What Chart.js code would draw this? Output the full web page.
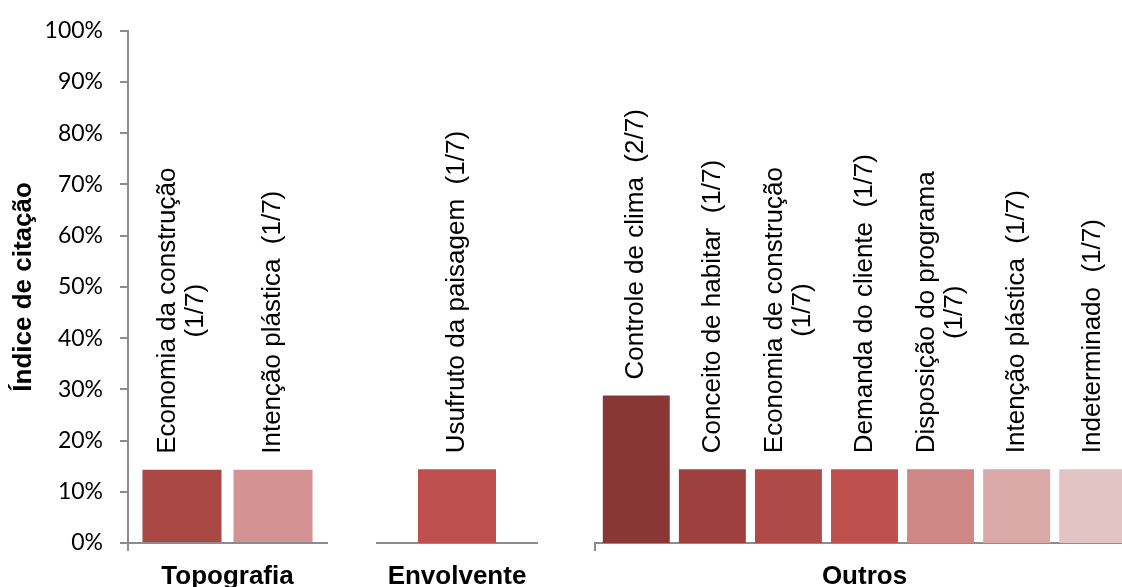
<!DOCTYPE html>
<html>
<head>
<meta charset="utf-8">
<script src="https://cdn.jsdelivr.net/npm/chart.js@4.4.0/dist/chart.umd.min.js"></script>
<style>
  html, body { margin: 0; padding: 0; background: #fff; overflow: hidden; }
  body { width: 1122px; height: 587px; position: relative; }
  canvas { position: absolute; top: 0; }
</style>
</head>
<body>
<canvas id="chartTopo" width="345" height="587" style="left:0px"></canvas>
<canvas id="chartEnv" width="200" height="587" style="left:360px"></canvas>
<canvas id="chartOutros" width="580" height="587" style="left:580px"></canvas>
<script>
// Group names (one panel each)
const groupNames = ['Topografia', 'Envolvente', 'Outros'];

// Bar labels for each panel (arrays = two lines)
const topoLabels = [['Economia da construção', '(1/7)'], 'Intenção plástica  (1/7)'];
const envLabels = ['Usufruto da paisagem  (1/7)'];
const outrosLabels = [
  'Controle de clima  (2/7)',
  'Conceito de habitar  (1/7)',
  ['Economia de construção', '(1/7)'],
  'Demanda do cliente  (1/7)',
  ['Disposição do programa', '(1/7)'],
  'Intenção plástica  (1/7)',
  'Indeterminado  (1/7)'
];

// Citation index values
const topoValues = [0.143, 0.143];
const envValues = [0.143];
const outrosValues = [0.286, 0.143, 0.143, 0.143, 0.143, 0.143, 0.143];

// y axis tick labels
const yTickLabels = ['0%', '10%', '20%', '30%', '40%', '50%', '60%', '70%', '80%', '90%', '100%'];

// bar colours
const topoColors = ['#AA4846', '#D49292'];
const envColors = ['#C0504D'];
const outrosColors = ['#893736', '#9D403E', '#AF4A48', '#C0504D', '#CE8785', '#DAA8A7', '#E2C4C4'];

const axisColor = '#8C8C8C';
const arial = "'Liberation Sans', Arial, sans-serif";

// Draws the vertical text above every bar
const barLabelPlugin = {
  id: 'barLabels',
  afterDatasetsDraw(chart) {
    const ctx = chart.ctx;
    ctx.save();
    ctx.font = '26px ' + arial;
    ctx.fillStyle = '#000';
    ctx.textBaseline = 'middle';
    ctx.textAlign = 'center';
    chart.data.datasets.forEach((ds, i) => {
      const bar = chart.getDatasetMeta(i).data[0];
      const lines = ds.lines;
      const maxW = Math.max(...lines.map(l => ctx.measureText(l).width));
      ctx.save();
      ctx.translate(bar.x, bar.y - 16);
      ctx.rotate(-Math.PI / 2);
      lines.forEach((line, k) => {
        ctx.fillText(line, maxW / 2, (k - (lines.length - 1) / 2) * 28);
      });
      ctx.restore();
    });
    ctx.restore();
  }
};

function makeChart(id, group, labels, values, colors, opts) {
  return new Chart(document.getElementById(id), {
    type: 'bar',
    data: {
      labels: [group],
      datasets: labels.map((lab, i) => ({
        label: [].concat(lab).join(' '),
        lines: [].concat(lab),
        data: [values[i]],
        backgroundColor: colors[i],
        categoryPercentage: opts.catPct,
        barPercentage: opts.barPct
      }))
    },
    options: {
      responsive: false,
      animation: false,
      events: [],
      layout: { padding: { top: 27, left: opts.padLeft, right: opts.padRight, bottom: 0 } },
      plugins: { legend: { display: false }, tooltip: { enabled: false } },
      scales: {
        x: {
          afterFit: s => { s.height = 44; },
          grid: {
            drawOnChartArea: false,
            tickLength: 8,
            lineWidth: 2,
            color: c => opts.edgeTicks[c.index] ? axisColor : 'rgba(0,0,0,0)'
          },
          border: { color: axisColor, width: 2 },
          ticks: { padding: 10, color: '#000', font: { family: arial, size: 26, weight: 'bold' } }
        },
        y: {
          display: opts.showY,
          min: 0,
          max: 1,
          afterFit: s => { if (opts.showY) s.width = 128; },
          grid: { drawOnChartArea: false, tickLength: 8, lineWidth: 2, color: axisColor },
          border: { color: axisColor, width: 2 },
          ticks: {
            stepSize: 0.1,
            padding: 17,
            color: '#000',
            font: { family: 'Lato', size: 23 },
            callback: (v, i) => yTickLabels[i]
          },
          title: {
            display: true,
            text: 'Índice de citação',
            color: '#000',
            font: { family: arial, size: 26, weight: 'bold' },
            padding: { top: 8, bottom: 0 }
          }
        }
      }
    },
    plugins: [barLabelPlugin]
  });
}

makeChart('chartTopo', groupNames[0], topoLabels, topoValues, topoColors,
  { catPct: 0.915, barPct: 0.868, padLeft: 0, padRight: 18, showY: true, edgeTicks: [true, true] });
makeChart('chartEnv', groupNames[1], envLabels, envValues, envColors,
  { catPct: 1, barPct: 0.4875, padLeft: 17, padRight: 23, showY: false, edgeTicks: [false, true] });
makeChart('chartOutros', groupNames[2], outrosLabels, outrosValues, outrosColors,
  { catPct: 0.988, barPct: 0.88, padLeft: 15, padRight: 26, showY: false, edgeTicks: [true, false] });
</script>
</body>
</html>
